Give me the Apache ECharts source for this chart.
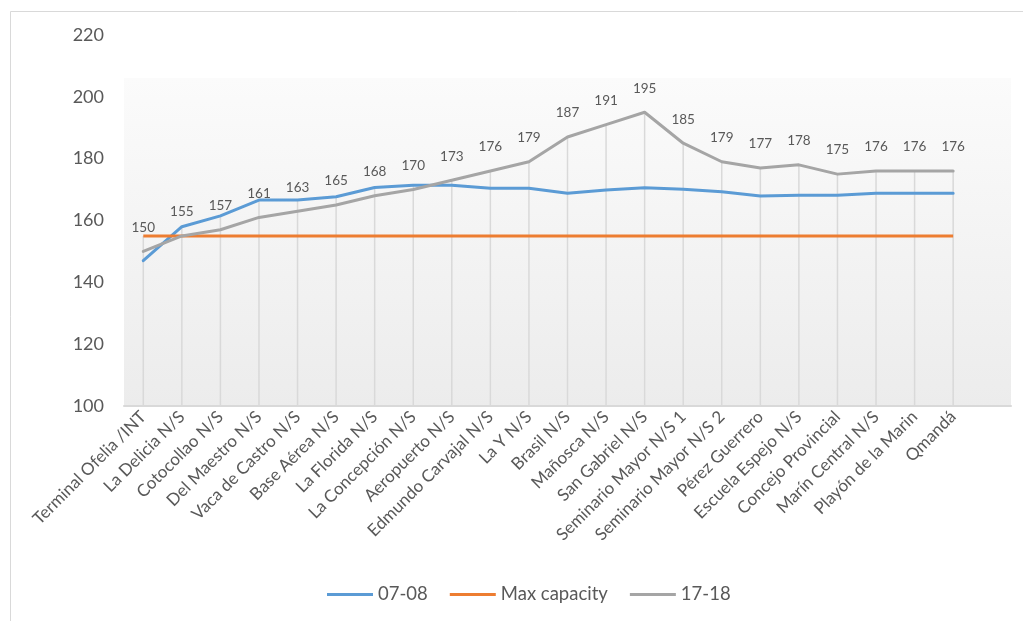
<!DOCTYPE html>
<html>
<head>
<meta charset="utf-8">
<script src="https://cdn.jsdelivr.net/npm/echarts@6/dist/echarts.min.js"></script>
<style>
  html, body { margin: 0; padding: 0; background: #ffffff; }
  #chart { width: 1023px; height: 621px; }
</style>
</head>
<body>
<div id="chart"></div>
<script>
// Stops along the route; the trailing empty slot keeps Excel's extra plot width
const stops = [
  'Terminal Ofelia /INT', 'La Delicia N/S', 'Cotocollao N/S', 'Del Maestro N/S',
  'Vaca de Castro N/S', 'Base Aérea N/S', 'La Florida N/S', 'La Concepción N/S',
  'Aeropuerto N/S', 'Edmundo Carvajal N/S', 'La Y N/S', 'Brasil N/S',
  'Mañosca N/S', 'San Gabriel N/S', 'Seminario Mayor N/S 1', 'Seminario Mayor N/S 2',
  'Pérez Guerrero', 'Escuela Espejo N/S', 'Concejo Provincial', 'Marín Central N/S',
  'Playón de la Marin', 'Qmandá', ''
];

// Load per stop, morning period 07-08
const load0708 = [147, 158, 161.5, 166.6, 166.6, 167.7, 170.7, 171.4, 171.4, 170.4, 170.4,
  168.8, 169.9, 170.6, 170.1, 169.3, 167.9, 168.2, 168.2, 168.8, 168.8, 168.8, null];

// Vehicle capacity limit
const maxCapacity = [155, 155, 155, 155, 155, 155, 155, 155, 155, 155, 155,
  155, 155, 155, 155, 155, 155, 155, 155, 155, 155, 155, null];

// Load per stop, evening period 17-18
const load1718 = [150, 155, 157, 161, 163, 165, 168, 170, 173, 176, 179,
  187, 191, 195, 185, 179, 177, 178, 175, 176, 176, 176, null];

// Y axis ticks
const yMin = 100, yMax = 220, yStep = 20;

// Drop lines reach up to the highest series at each stop
const dropTop = stops.map((_, i) => {
  const vals = [load0708[i], maxCapacity[i], load1718[i]].filter(v => v != null);
  return vals.length ? Math.max(...vals) : null;
});

const FONT = 'Lato, "Open Sans", sans-serif';
const TEXT = '#595959';

const chart = echarts.init(document.getElementById('chart'));
chart.setOption({
  animation: false,
  backgroundColor: '#ffffff',
  textStyle: { fontFamily: FONT },
  graphic: [{
    type: 'rect',
    shape: { x: 10.5, y: 11.5, width: 1020, height: 620 },
    style: { fill: 'none', stroke: '#d9d9d9', lineWidth: 1 },
    silent: true,
    z: -10
  }],
  grid: {
    left: 124, right: 12, top: 35, bottom: 215,
    show: true, borderWidth: 0,
    backgroundColor: {
      type: 'linear', x: 0, y: 0, x2: 0, y2: 1,
      colorStops: [
        { offset: 0, color: '#ffffff' },
        { offset: 0.115, color: '#ffffff' },
        { offset: 0.117, color: '#fbfbfb' },
        { offset: 1, color: '#ececec' }
      ]
    }
  },
  legend: {
    data: ['07-08', 'Max capacity', '17-18'],
    top: 585,
    left: 327,
    padding: 0,
    icon: 'rect',
    itemWidth: 46,
    itemHeight: 3,
    itemGap: 22,
    textStyle: { color: TEXT, fontSize: 18.5, fontFamily: FONT }
  },
  xAxis: {
    type: 'category',
    data: stops,
    boundaryGap: true,
    axisLine: { lineStyle: { color: '#d9d9d9', width: 2 } },
    axisTick: { show: false },
    splitLine: { show: false },
    axisLabel: {
      rotate: 45,
      interval: 0,
      margin: 8,
      color: TEXT,
      fontSize: 17,
      fontFamily: FONT
    }
  },
  yAxis: {
    type: 'value',
    min: yMin, max: yMax, interval: yStep,
    axisLine: { show: false },
    axisTick: { show: false },
    splitLine: { show: false },
    axisLabel: { color: TEXT, fontSize: 18, fontFamily: FONT, margin: 20 }
  },
  series: [
    {
      name: 'drop',
      type: 'custom',
      silent: true,
      z: 1,
      data: dropTop.map((v, i) => [i, v]),
      renderItem: function (params, api) {
        const v = api.value(1);
        if (v == null || isNaN(v)) return null;
        const top = api.coord([api.value(0), v]);
        const bottom = api.coord([api.value(0), yMin]);
        return {
          type: 'line',
          shape: { x1: top[0], y1: top[1], x2: bottom[0], y2: bottom[1] },
          style: { stroke: '#d9d9d9', lineWidth: 1.5 }
        };
      }
    },
    {
      name: '07-08',
      type: 'line',
      data: load0708,
      symbol: 'none',
      z: 3,
      lineStyle: { color: '#5B9BD5', width: 3, join: 'round', cap: 'round' },
      itemStyle: { color: '#5B9BD5' }
    },
    {
      name: 'Max capacity',
      type: 'line',
      data: maxCapacity,
      symbol: 'none',
      z: 3,
      lineStyle: { color: '#ED7D31', width: 3 },
      itemStyle: { color: '#ED7D31' }
    },
    {
      name: '17-18',
      type: 'line',
      data: load1718,
      symbol: 'circle',
      symbolSize: 0.1,
      showSymbol: true,
      z: 4,
      lineStyle: { color: '#A5A5A5', width: 3, join: 'round', cap: 'round' },
      itemStyle: { color: '#A5A5A5' },
      label: {
        show: true,
        position: 'top',
        distance: 17,
        color: TEXT,
        fontSize: 13.5,
        fontFamily: FONT
      }
    }
  ]
});
</script>
</body>
</html>
